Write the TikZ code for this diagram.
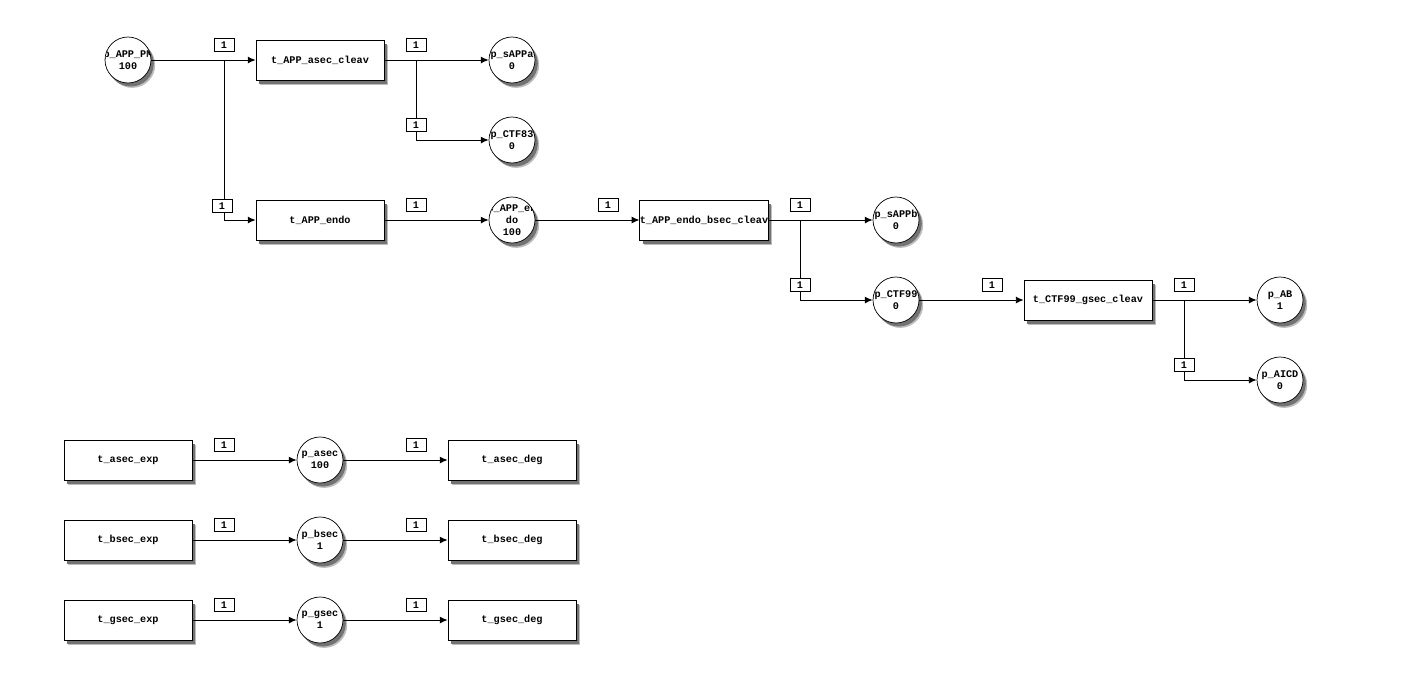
\documentclass[tikz,border=0pt]{standalone}
\usepackage{fontspec}
\setmonofont{Liberation Mono}
\usetikzlibrary{shadows,arrows.meta}
\tikzset{
	netfont/.style={font=\ttfamily\bfseries\fontsize{5.8}{7}\selectfont},
	netshadow/.style={
		general shadow={shadow xshift=2.4pt, shadow yshift=-2.8pt, fill=black!25},
		general shadow={shadow xshift=1.6pt, shadow yshift=-2pt, fill=black!55}},
	place/.style={shape=circle, draw=black, fill=white, minimum size=0.92cm, inner sep=0pt, netshadow,
		path picture={\node[netfont, align=center] at (path picture bounding box.center) {#1};}},
	trans/.style={shape=rectangle, draw=black, fill=white, minimum width=2.56cm, minimum height=0.8cm, inner sep=0pt, netshadow, netfont},
	weight/.style={shape=rectangle, draw=black, fill=white, minimum width=0.4cm, minimum height=0.26cm, inner sep=0pt, netfont},
	arc/.style={-{Latex[length=4.5pt,width=4pt]}, line width=0.55pt}
}
\begin{document}
\begin{tikzpicture}[x=0.02cm, y=-0.02cm]
			\useasboundingbox (0,0) rectangle (1408,680);
			%Places:
			\path
				(128, 60) node[place={p\_APP\_PM\\100}] (pAPPPM) {}
				(512, 60) node[place={p\_sAPPa\\0}] (psAPPa) {}
				(512, 140) node[place={p\_CTF83\\0}] (pCTFeightythree) {}
				(512, 220) node[place={p\_APP\_en\\do\\100}] (pAPPendo) {}
				(896, 220) node[place={p\_sAPPb\\0}] (psAPPb) {}
				(896, 300) node[place={p\_CTF99\\0}] (pCTFninetynine) {}
				(1280, 300) node[place={p\_AB\\1}] (pAB) {}
				(1280, 380) node[place={p\_AICD\\0}] (pAICD) {}
				(320, 460) node[place={p\_asec\\100}] (pasec) {}
				(320, 540) node[place={p\_bsec\\1}] (pbsec) {}
				(320, 620) node[place={p\_gsec\\1}] (pgsec) {};
			%Transitions:
			\path
				(320, 60) node[trans] (tAPPasec) {t\_APP\_asec\_cleav}
				(320, 220) node[trans] (tAPPendo) {t\_APP\_endo}
				(704, 220) node[trans] (tAPPbsec) {t\_APP\_endo\_bsec\_cleav}
				(1088, 300) node[trans] (tCTFgsec) {t\_CTF99\_gsec\_cleav}
				(128, 460) node[trans] (taexp) {t\_asec\_exp}
				(512, 460) node[trans] (tadeg) {t\_asec\_deg}
				(128, 540) node[trans] (tbexp) {t\_bsec\_exp}
				(512, 540) node[trans] (tbdeg) {t\_bsec\_deg}
				(128, 620) node[trans] (tgexp) {t\_gsec\_exp}
				(512, 620) node[trans] (tgdeg) {t\_gsec\_deg};
			%Branch points:
			\coordinate (jPM) at (224, 60);
			\coordinate (jasec) at (416, 60);
			\coordinate (jbsec) at (800, 220);
			\coordinate (jgsec) at (1184, 300);
			%Arcs:
			\draw[arc] (pAPPPM) -- (tAPPasec);
			\draw[arc] (jPM) |- (tAPPendo);
			\draw[arc] (tAPPasec) -- (psAPPa);
			\draw[arc] (jasec) |- (pCTFeightythree);
			\draw[arc] (tAPPendo) -- (pAPPendo);
			\draw[arc] (pAPPendo) -- (tAPPbsec);
			\draw[arc] (tAPPbsec) -- (psAPPb);
			\draw[arc] (jbsec) |- (pCTFninetynine);
			\draw[arc] (pCTFninetynine) -- (tCTFgsec);
			\draw[arc] (tCTFgsec) -- (pAB);
			\draw[arc] (jgsec) |- (pAICD);
			\draw[arc] (taexp) -- (pasec);
			\draw[arc] (pasec) -- (tadeg);
			\draw[arc] (tbexp) -- (pbsec);
			\draw[arc] (pbsec) -- (tbdeg);
			\draw[arc] (tgexp) -- (pgsec);
			\draw[arc] (pgsec) -- (tgdeg);
			%Arc weights:
			\path
				(224, 45) node[weight] (wPM) {1}
				(222, 206) node[weight] (wendo) {1}
				(416, 45) node[weight] (wsAPPa) {1}
				(416, 125) node[weight] (wCTFeightythree) {1}
				(416, 205) node[weight] (wAPPendo) {1}
				(608, 205) node[weight] (wbsec) {1}
				(800, 205) node[weight] (wsAPPb) {1}
				(800, 285) node[weight] (wCTFninetynine) {1}
				(992, 285) node[weight] (wgsec) {1}
				(1184, 285) node[weight] (wAB) {1}
				(1184, 365) node[weight] (wAICD) {1}
				(224, 445) node[weight] (waexp) {1}
				(416, 445) node[weight] (wadeg) {1}
				(224, 525) node[weight] (wbexp) {1}
				(416, 525) node[weight] (wbdeg) {1}
				(224, 605) node[weight] (wgexp) {1}
				(416, 605) node[weight] (wgdeg) {1};
\end{tikzpicture}
\end{document}
